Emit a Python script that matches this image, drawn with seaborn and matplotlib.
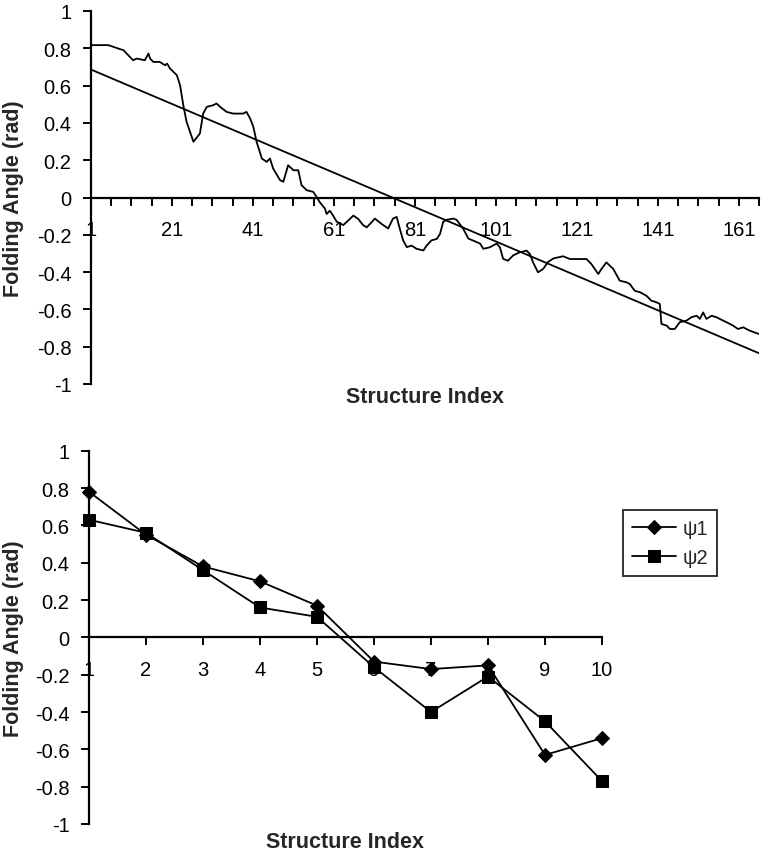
import matplotlib
matplotlib.use("Agg")
import matplotlib.pyplot as plt
import pandas as pd
import seaborn as sns
from matplotlib.ticker import FixedLocator, FuncFormatter

# --- upper panel: folding angle along the whole trajectory (traced) ---
traj_index = [1, 5.3, 6.5, 7.7, 9.0, 10.6, 11.4, 12.3, 14.3, 15.2, 15.6, 16.4, 18.0,
              19.3, 19.8, 20.5, 22.2, 23.0, 23.8, 24.6, 26.3, 27.9, 28.7, 29.6, 31.2,
              32.0, 32.9, 34.5, 36.1, 38.6, 39.4, 40.3, 41.1, 41.9, 43.2, 44.4, 45.2,
              46.0, 47.7, 48.5, 49.7, 51.0, 52.2, 53.0, 54.3, 55.9, 56.7, 57.5, 58.8,
              59.2, 60.0, 60.8, 61.7, 63.3, 64.5, 65.8, 67.0, 68.2, 69.1, 70.3, 71.1,
              72.8, 74.4, 75.6, 76.5, 77.3, 78.1, 79.0, 80.2, 81.4, 83.1, 83.9, 85.1,
              86.4, 87.2, 88.0, 88.8, 90.5, 91.3, 92.9, 94.2, 95.4, 97.1, 97.9, 99.5,
              101.2, 102.0, 102.8, 104.0, 105.3, 106.9, 108.6, 109.4, 110.2, 111.4,
              112.7, 113.9, 115.2, 117.6, 119.3, 123.4, 124.6, 126.3, 127.1, 128.3,
              130.0, 131.6, 133.3, 134.1, 135.3, 136.6, 138.2, 139.4, 140.7, 141.5,
              141.9, 143.2, 144.0, 145.2, 146.4, 148.1, 149.3, 150.6, 151.4, 152.2,
              153.0, 154.3, 155.5, 156.3, 158.0, 159.6, 160.8, 162.1, 163.7, 166]
traj_angle = [0.817, 0.817, 0.808, 0.799, 0.790, 0.754, 0.736, 0.745, 0.736, 0.772,
              0.745, 0.727, 0.727, 0.709, 0.718, 0.692, 0.656, 0.602, 0.495, 0.406,
              0.299, 0.343, 0.450, 0.486, 0.495, 0.504, 0.486, 0.459, 0.450, 0.450,
              0.459, 0.424, 0.379, 0.299, 0.209, 0.191, 0.209, 0.155, 0.093, 0.084,
              0.173, 0.146, 0.146, 0.066, 0.039, 0.030, 0.004, -0.025, -0.060, -0.088,
              -0.071, -0.097, -0.130, -0.148, -0.124, -0.097, -0.115, -0.148, -0.160,
              -0.133, -0.113, -0.142, -0.166, -0.113, -0.104, -0.169, -0.230, -0.266,
              -0.258, -0.275, -0.284, -0.258, -0.230, -0.222, -0.196, -0.130, -0.120,
              -0.113, -0.120, -0.166, -0.220, -0.231, -0.247, -0.275, -0.267, -0.247,
              -0.267, -0.329, -0.339, -0.310, -0.294, -0.285, -0.303, -0.348, -0.401,
              -0.383, -0.345, -0.327, -0.315, -0.330, -0.330, -0.357, -0.410, -0.383,
              -0.348, -0.383, -0.446, -0.455, -0.464, -0.500, -0.508, -0.527, -0.553,
              -0.562, -0.571, -0.678, -0.687, -0.705, -0.705, -0.669, -0.660, -0.642,
              -0.634, -0.651, -0.616, -0.651, -0.634, -0.642, -0.651, -0.669, -0.687,
              -0.705, -0.696, -0.714, -0.732]

# linear trend line (end points)
trend_index = [1, 166]
trend_angle = [0.686, -0.835]

top_xlim = [1, 166]
top_xlabels = [1, 21, 41, 61, 81, 101, 121, 141, 161]
top_xminor = list(range(1, 167, 5))

# --- lower panel: the ten selected structures ---
sel_index = [1, 2, 3, 4, 5, 6, 7, 8, 9, 10]
psi1 = [0.78, 0.55, 0.38, 0.30, 0.17, -0.13, -0.17, -0.15, -0.63, -0.54]
psi2 = [0.63, 0.56, 0.36, 0.16, 0.11, -0.16, -0.40, -0.21, -0.45, -0.77]

y_ticks = [-1, -0.8, -0.6, -0.4, -0.2, 0, 0.2, 0.4, 0.6, 0.8, 1]

sns.set_theme(style="white")
plt.rcParams['font.family'] = ['Liberation Sans', 'DejaVu Sans']
plt.rcParams['axes.unicode_minus'] = False

W, H = 764, 853
fig = plt.figure(figsize=(W / 100, H / 100), dpi=100)
ax_top = fig.add_axes([91 / W, 1 - 385 / H, 668 / W, 373 / H])
ax_bot = fig.add_axes([89 / W, 1 - 825 / H, 513 / W, 373.3 / H])

LW = 1.3
TICK_FS = 14.5
LABEL_FS = 15.5


def fmt(v, pos):
    v = round(v, 2)
    return f"{v:g}" if v != 0 else "0"


def style_axes(ax):
    ax.set_facecolor("white")
    ax.spines['top'].set_visible(False)
    ax.spines['right'].set_visible(False)
    ax.spines['left'].set_color("black")
    ax.spines['left'].set_linewidth(1.6)
    ax.spines['bottom'].set_color("black")
    ax.spines['bottom'].set_linewidth(1.6)
    ax.spines['bottom'].set_position(('data', 0))
    ax.set_ylim(-1, 1)
    ax.yaxis.set_major_locator(FixedLocator(y_ticks))
    ax.yaxis.set_major_formatter(FuncFormatter(fmt))
    ax.tick_params(axis='y', which='both', left=True, direction='out', length=6,
                   width=1.4, color='black', pad=8, labelsize=TICK_FS, labelcolor='black')
    ax.tick_params(axis='x', which='both', bottom=True, direction='out', length=6,
                   width=1.4, color='black', pad=10, labelsize=TICK_FS, labelcolor='black')
    ax.grid(False)


# upper panel
sns.lineplot(x=traj_index, y=traj_angle, ax=ax_top, color="black", lw=LW,
             estimator=None, sort=False)
sns.lineplot(x=trend_index, y=trend_angle, ax=ax_top, color="black", lw=LW,
             estimator=None, sort=False)
style_axes(ax_top)
ax_top.set_xlim(*top_xlim)
ax_top.xaxis.set_major_locator(FixedLocator(top_xlabels))
ax_top.xaxis.set_minor_locator(FixedLocator(top_xminor))
ax_top.xaxis.set_major_formatter(FuncFormatter(lambda v, p: f"{int(round(v))}"))
ax_top.set_ylabel("Folding Angle (rad)", fontsize=LABEL_FS, fontweight='bold')
ax_top.yaxis.set_label_coords(-0.100, 0.5)
ax_top.set_xlabel("Structure Index", fontsize=LABEL_FS, fontweight='bold')
ax_top.xaxis.set_label_coords(0.5, -0.005)

# lower panel
sns.lineplot(x=sel_index, y=psi1, ax=ax_bot, color="black", lw=LW, marker='D',
             markersize=7, markeredgecolor='black', label="\u03c81",
             estimator=None, sort=False, clip_on=False)
sns.lineplot(x=sel_index, y=psi2, ax=ax_bot, color="black", lw=LW, marker='s',
             markersize=8, markeredgecolor='black', label="\u03c82",
             estimator=None, sort=False, clip_on=False)
style_axes(ax_bot)
ax_bot.set_xlim(1, 10)
ax_bot.xaxis.set_major_locator(FixedLocator(sel_index))
ax_bot.xaxis.set_major_formatter(FuncFormatter(lambda v, p: f"{int(round(v))}"))
ax_bot.set_ylabel("Folding Angle (rad)", fontsize=LABEL_FS, fontweight='bold')
ax_bot.yaxis.set_label_coords(-0.127, 0.5)
ax_bot.set_xlabel("Structure Index", fontsize=LABEL_FS, fontweight='bold')
ax_bot.xaxis.set_label_coords(0.5, -0.018)

leg = ax_bot.legend(loc='upper left', bbox_to_anchor=(623 / W, 1 - 511 / H),
                    bbox_transform=fig.transFigure, frameon=True, fancybox=False,
                    edgecolor='black', fontsize=TICK_FS, handlelength=2.2,
                    handletextpad=0.3, borderpad=0.45, labelspacing=0.5,
                    borderaxespad=0)
leg.get_frame().set_linewidth(1.4)

fig.savefig("out.png", dpi=100, facecolor="white")
